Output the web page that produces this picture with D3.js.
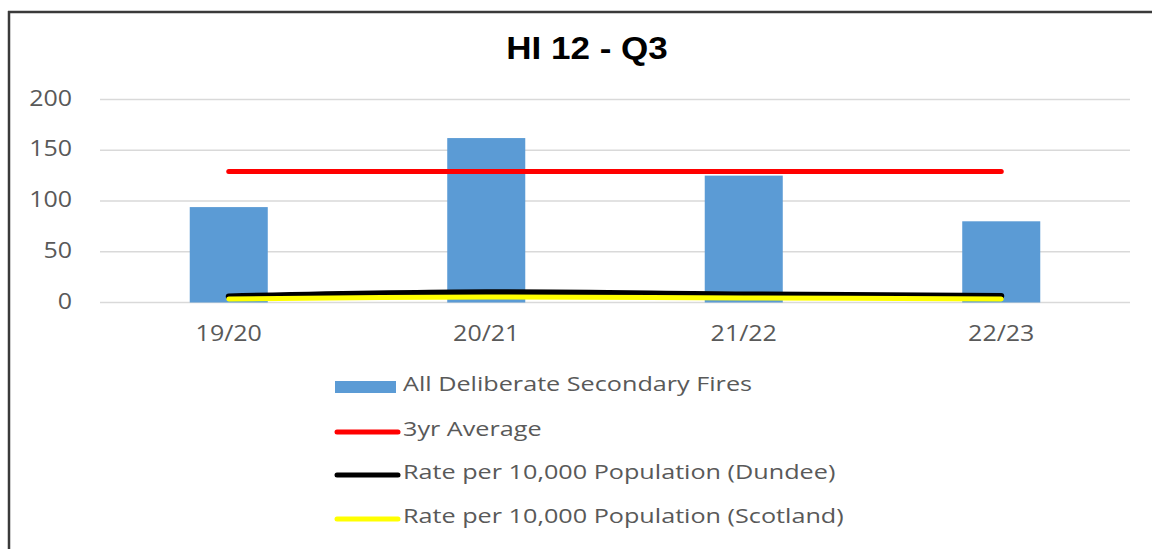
<!DOCTYPE html>
<html>
<head>
<meta charset="utf-8">
<script src="https://cdn.jsdelivr.net/npm/d3@7"></script>
<style>
  html, body { margin: 0; padding: 0; background: #ffffff; }
  svg { display: block; }
</style>
</head>
<body>
<script>
// Chart data
var categories = ["19/20", "20/21", "21/22", "22/23"];
var secondaryFires = [94, 162, 125, 80];
var threeYrAverage = [129, 129, 129, 129];
var rateDundee = [6, 10, 8, 6.5];
var rateScotland = [3.5, 5.5, 4.5, 3.5];
var yTicks = [0, 50, 100, 150, 200];

var seriesNames = [
    "All Deliberate Secondary Fires",
    "3yr Average",
    "Rate per 10,000 Population (Dundee)",
    "Rate per 10,000 Population (Scotland)"
];
var seriesColors = ["#5b9bd5", "#ff0000", "#000000", "#ffff00"];

(function () {
    var width = 1152;
    var height = 549;
    var stretch = 1.19; // axis text in the source is widened

    var svg = d3.select("body")
        .append("svg")
        .attr("width", width)
        .attr("height", height);

    // Frame: only top and left edges are visible
    svg.append("line")
        .attr("x1", 8).attr("x2", width)
        .attr("y1", 12).attr("y2", 12)
        .attr("stroke", "#3a3a3a")
        .attr("stroke-width", 2.5);
    svg.append("line")
        .attr("x1", 9).attr("x2", 9)
        .attr("y1", 11).attr("y2", height)
        .attr("stroke", "#3a3a3a")
        .attr("stroke-width", 2.5);

    // Scales
    var x = d3.scaleBand()
        .domain(categories)
        .range([100, 1130])
        .paddingInner(0.697)
        .paddingOuter(0.3485);

    var y = d3.scaleLinear()
        .domain([0, 200])
        .range([302.5, 99.5]);

    function cx(d) {
        return x(d) + x.bandwidth() / 2;
    }

    // Gridlines
    svg.append("g")
        .selectAll("line")
        .data(yTicks)
        .enter()
        .append("line")
        .attr("x1", 100)
        .attr("x2", 1130)
        .attr("y1", function (d) { return y(d); })
        .attr("y2", function (d) { return y(d); })
        .attr("stroke", "#d9d9d9")
        .attr("stroke-width", 1.5);

    // Y tick labels
    svg.append("g")
        .selectAll("text")
        .data(yTicks)
        .enter()
        .append("text")
        .attr("transform", function (d) {
            return "translate(72," + (y(d) - 2) + ") scale(" + stretch + ",1)";
        })
        .attr("text-anchor", "end")
        .attr("dominant-baseline", "central")
        .attr("font-family", "'Open Sans', sans-serif")
        .attr("font-size", 21)
        .attr("fill", "#595959")
        .text(function (d) { return d; });

    // X category labels
    svg.append("g")
        .selectAll("text")
        .data(categories)
        .enter()
        .append("text")
        .attr("transform", function (d) {
            return "translate(" + cx(d) + ",341) scale(" + stretch + ",1)";
        })
        .attr("text-anchor", "middle")
        .attr("font-family", "'Open Sans', sans-serif")
        .attr("font-size", 21)
        .attr("fill", "#595959")
        .text(function (d) { return d; });

    // Bars
    svg.append("g")
        .selectAll("rect")
        .data(secondaryFires)
        .enter()
        .append("rect")
        .attr("x", function (d, i) { return x(categories[i]); })
        .attr("width", x.bandwidth())
        .attr("y", function (d) { return y(d); })
        .attr("height", function (d) { return y(0) - y(d); })
        .attr("fill", seriesColors[0]);

    // Line series
    var line = d3.line()
        .x(function (d, i) { return cx(categories[i]); })
        .y(function (d) { return y(d); })
        .curve(d3.curveCatmullRom.alpha(0.5));

    var lineSeries = [
        { values: threeYrAverage, color: seriesColors[1], w: 5 },
        { values: rateDundee, color: seriesColors[2], w: 6 },
        { values: rateScotland, color: seriesColors[3], w: 5 }
    ];

    svg.append("g")
        .selectAll("path")
        .data(lineSeries)
        .enter()
        .append("path")
        .attr("d", function (d) { return line(d.values); })
        .attr("fill", "none")
        .attr("stroke", function (d) { return d.color; })
        .attr("stroke-width", function (d) { return d.w; })
        .attr("stroke-linecap", "round")
        .attr("stroke-linejoin", "round");

    // Title
    svg.append("text")
        .attr("transform", "translate(587,59) scale(1.13,1)")
        .attr("text-anchor", "middle")
        .attr("font-family", "'Liberation Sans', Arial, sans-serif")
        .attr("font-weight", "bold")
        .attr("font-size", 31)
        .attr("fill", "#000000")
        .text("HI 12 - Q3");

    // Legend
    var legendY = [387, 432, 475, 519];
    var legend = svg.append("g")
        .selectAll("g")
        .data(seriesNames)
        .enter()
        .append("g")
        .attr("transform", function (d, i) { return "translate(0," + legendY[i] + ")"; });

    legend.each(function (d, i) {
        var g = d3.select(this);
        if (i === 0) {
            g.append("rect")
                .attr("x", 335)
                .attr("y", -6)
                .attr("width", 61)
                .attr("height", 12)
                .attr("fill", seriesColors[0]);
        } else {
            g.append("line")
                .attr("x1", 337)
                .attr("x2", 398)
                .attr("y1", 0)
                .attr("y2", 0)
                .attr("stroke", seriesColors[i])
                .attr("stroke-width", 5)
                .attr("stroke-linecap", "round");
        }
        g.append("text")
            .attr("transform", "translate(403,4) scale(1.26,1)")
            .attr("font-family", "'Open Sans', sans-serif")
            .attr("font-size", 20)
            .attr("fill", "#595959")
            .text(d);
    });
})();
</script>
</body>
</html>
